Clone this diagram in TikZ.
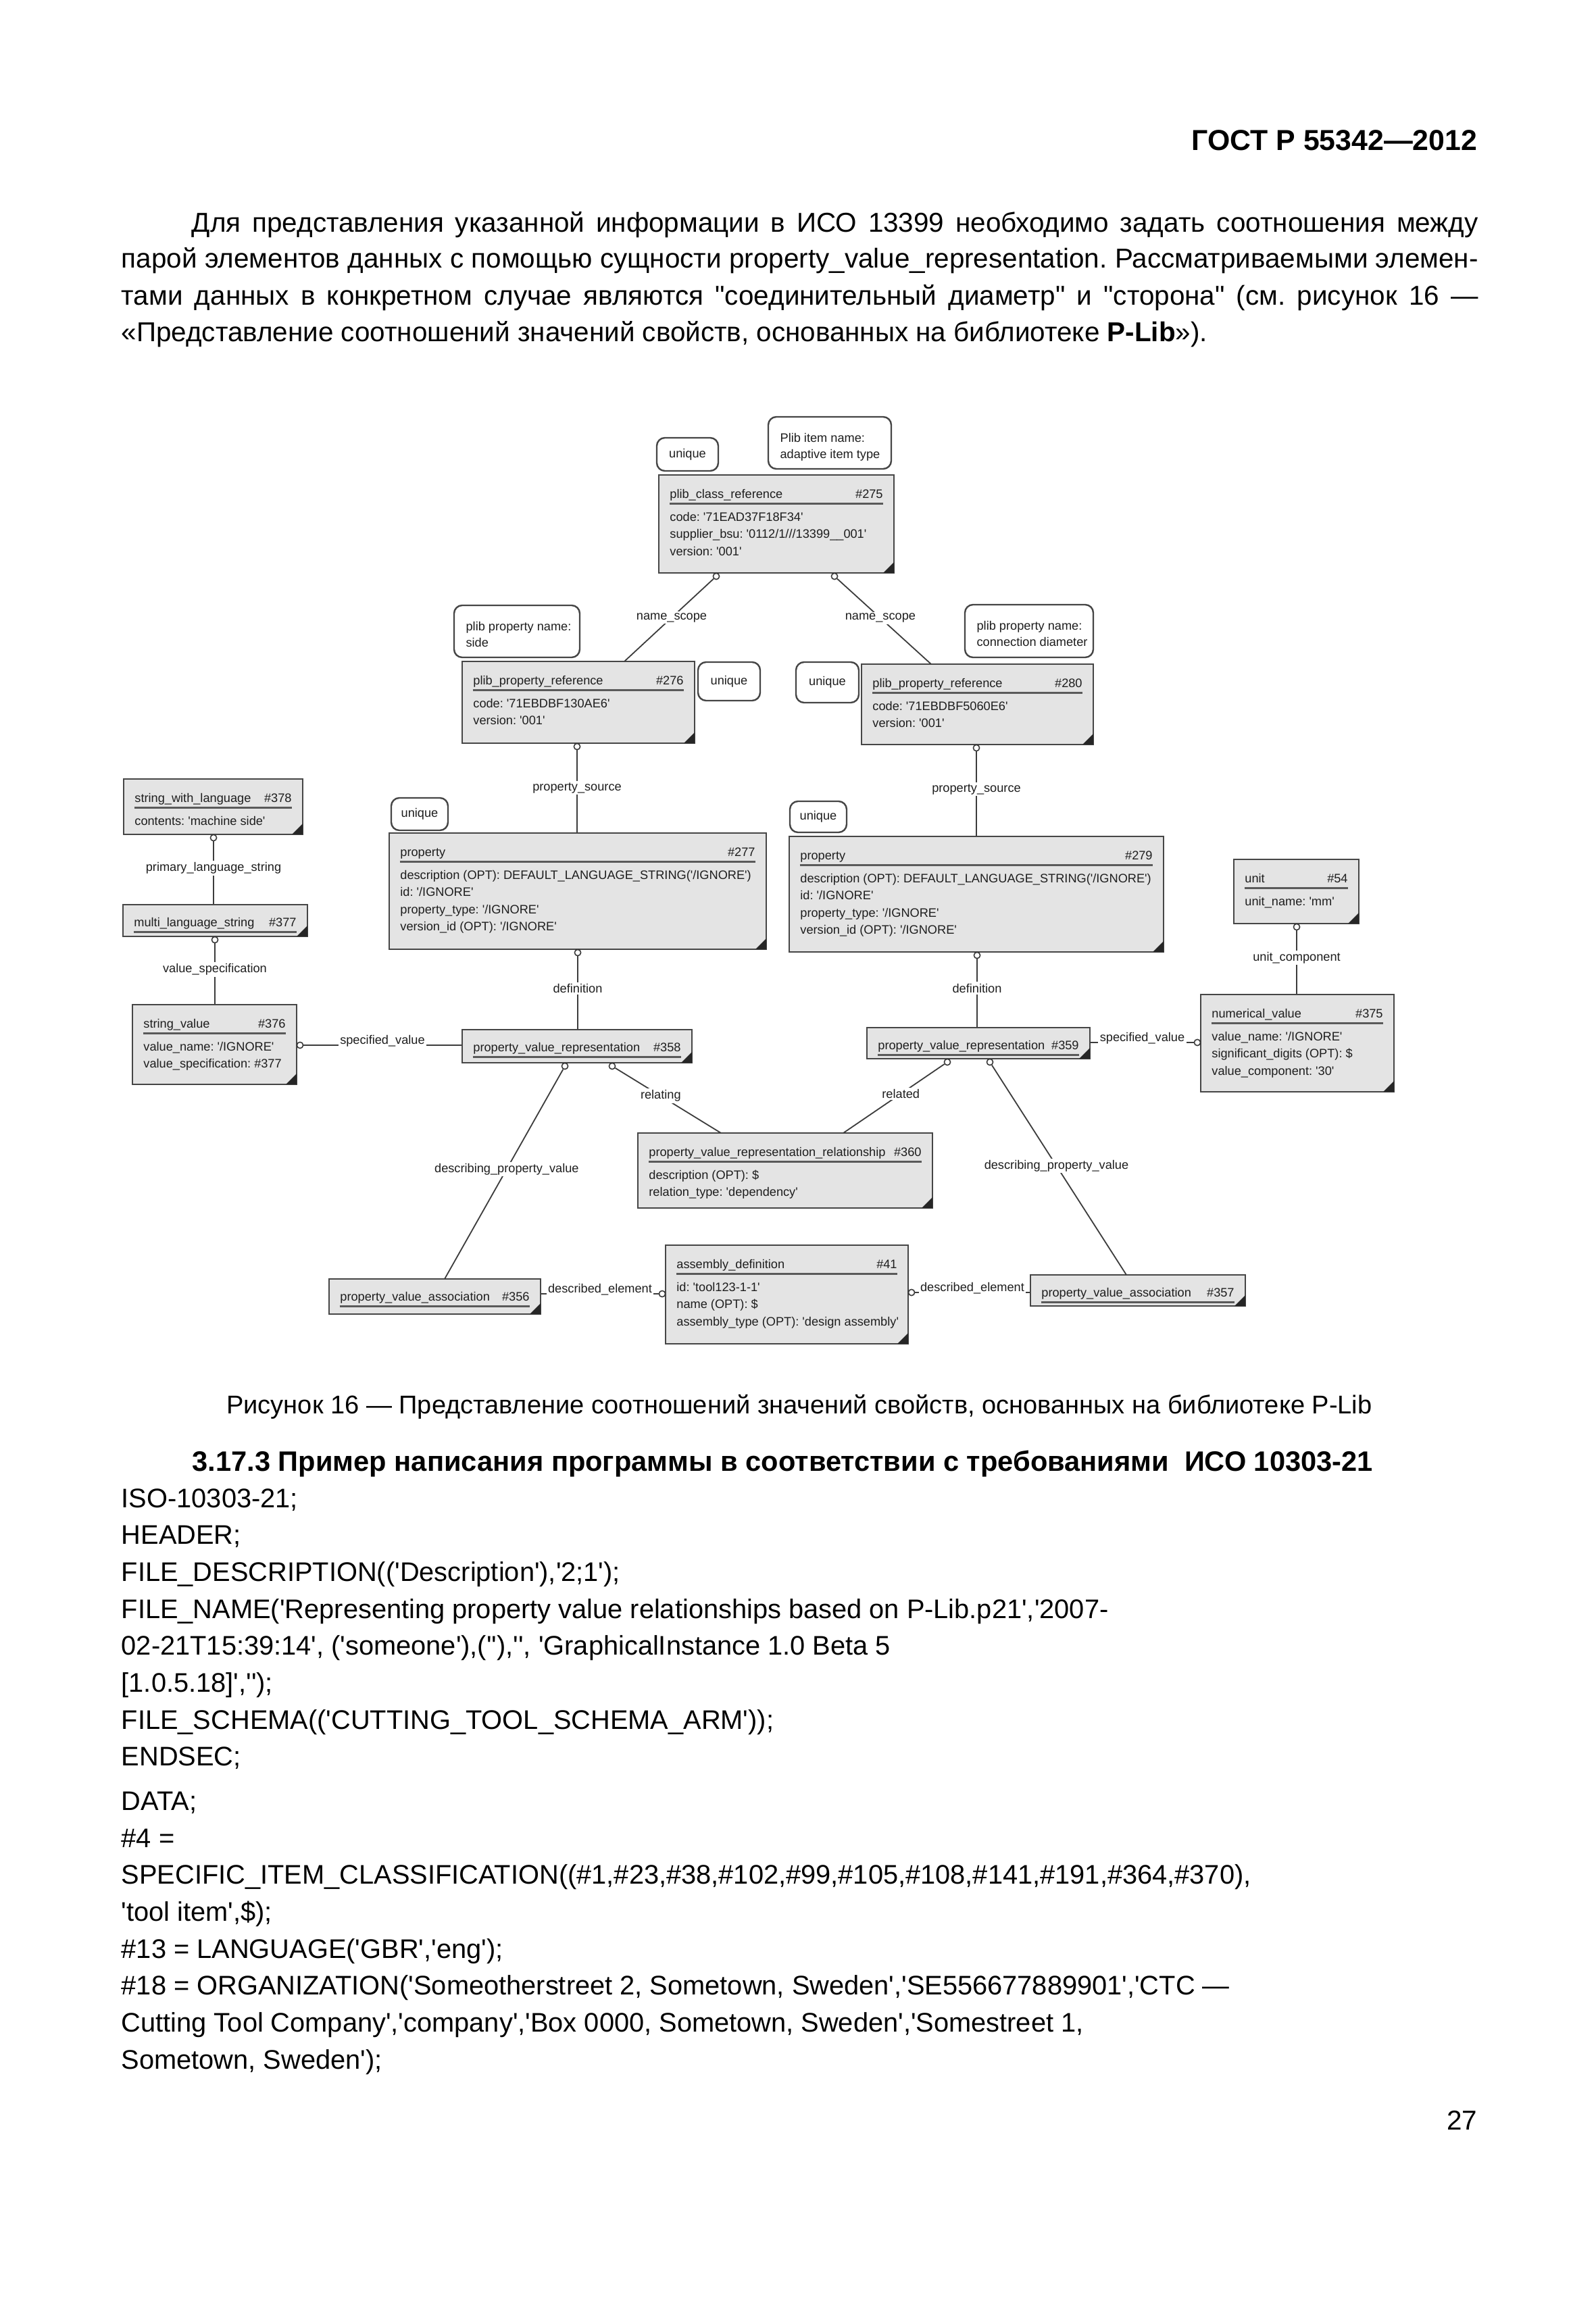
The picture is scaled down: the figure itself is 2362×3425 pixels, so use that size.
\documentclass[tikz,border=0pt]{standalone}
\usepackage{fontspec}
\newfontfamily\af{Liberation Sans}
\usetikzlibrary{fit,calc}
\definecolor{edge}{RGB}{70,70,70}
\definecolor{efill}{RGB}{228,228,228}
\definecolor{ulcol}{RGB}{90,90,90}
\definecolor{ccol}{RGB}{60,60,60}
\definecolor{dtext}{RGB}{30,30,30}
\newcommand\dfont{\af\fontsize{4.55pt}{6.4pt}\selectfont}
\newcommand\bfont{\af\fontsize{10.1pt}{13.5pt}\selectfont}
\newcommand\cfont{\af\fontsize{9.95pt}{13.5pt}\selectfont}
\newcommand\capfont{\af\fontsize{9.5pt}{12pt}\selectfont}
\newcommand\hfont{\af\bfseries\fontsize{10.4pt}{13pt}\selectfont}
\newcommand\gfont{\af\bfseries\fontsize{10.7pt}{13pt}\selectfont}
\frenchspacing
\tikzset{
  ebox/.style={draw=edge, fill=efill, line width=0.7pt, inner sep=0pt},
  nbox/.style={draw=edge, fill=white, line width=0.6pt, rounded corners=3pt, inner sep=0pt},
  etext/.style={font=\dfont, inner sep=0pt, text=dtext},
  uline/.style={draw=ulcol, line width=0.7pt},
  conn/.style={draw=ccol, line width=0.45pt},
  circ/.style={circle, draw=ccol, fill=white, line width=0.4pt, minimum size=2.3pt, inner sep=0pt},
  lbl/.style={font=\dfont, fill=white, inner sep=0.6pt, text=dtext},
  tri/.style={fill=black!85},
  body/.style={font=\bfont, inner sep=0pt, anchor=base west},
  code/.style={font=\cfont, inner sep=0pt, anchor=base west},
}
% entity with attribute rows
\newcommand\ent[8]{%
  \node[ebox, fit={(#2,#3) (#4,#5)}] (#1) {};
  \fill[tri] (#4,#5) -- ++(-16,0) -- ++(16,-16) -- cycle;
  \node[etext, anchor=base west] at ($(#1.north west)+(17,36)$) {#6};
  \node[etext, anchor=base east] at ($(#1.north east)+(-17,36)$) {#7};
  \draw[uline] ($(#1.north west)+(17,44)$) -- ($(#1.north east)+(-17,44)$);
  \foreach \rt [count=\ri] in {#8} {\node[etext, anchor=base west] at ($(#1.north west)+(17,{44+25.5*\ri})$) {\rt};}
}
% entity with title only
\newcommand\sent[7]{%
  \node[ebox, fit={(#2,#3) (#4,#5)}] (#1) {};
  \fill[tri] (#4,#5) -- ++(-16,0) -- ++(16,-16) -- cycle;
  \node[etext, anchor=base west] at ($(#1.north west)+(17,34)$) {#6};
  \node[etext, anchor=base east] at ($(#1.north east)+(-17,34)$) {#7};
  \draw[uline] ($(#1.north west)+(17,42)$) -- ($(#1.north east)+(-17,42)$);
}
\newcommand\note[6]{%
  \node[nbox, fit={(#2,#3) (#4,#5)}] (#1) {};
  \node[etext] at (#1.center) {#6};
}
\newcommand\notetwo[7]{%
  \node[nbox, fit={(#2,#3) (#4,#5)}] (#1) {};
  \node[etext, anchor=base west] at ($(#1.north west)+(18,39)$) {#6};
  \node[etext, anchor=base west] at ($(#1.north west)+(18,63)$) {#7};
}
\begin{document}
\begin{tikzpicture}[x=0.25pt,y=-0.25pt]
\useasboundingbox (0,0) rectangle (2362,3425);
\fill[white] (0,0) rectangle (2362,3425);

% ---------- page text ----------
\node[font=\gfont, inner sep=0pt, anchor=base east] (hdr) at (2187,223) {ГОСТ Р 55342—2012};
\node[body] (p1) at (283,343) {\hbox to 476pt{Для представления указанной информации в ИСО 13399 необходимо задать соотношения между}};
\node[body] (p2) at (179,397) {\hbox to 502pt{парой элементов данных с помощью сущности property\_value\_representation. Рассматриваемыми элемен-}};
\node[body] (p3) at (179,451) {\hbox to 502pt{тами данных в конкретном случае являются "соединительный диаметр" и "сторона" (см. рисунок 16 —}};
\node[body] (p4) at (179,505) {«Представление соотношений значений свойств, основанных на библиотеке \textbf{P-Lib}»).};

\node[font=\capfont, inner sep=0pt, anchor=base] (cap) at (1183,2092) {Рисунок 16 — Представление соотношений значений свойств, основанных на библиотеке P-Lib};
\node[font=\hfont, inner sep=0pt, anchor=base west] (sec) at (284,2177) {3.17.3 Пример написания программы в соответствии с требованиями \ ИСО 10303-21};

\node[code] (c1) at (179,2231) {ISO-10303-21;};
\node[code] (c2) at (179,2285) {HEADER;};
\node[code] (c3) at (179,2340) {FILE\_DESCRIPTION(('Description'),'2;1');};
\node[code] (c4) at (179,2395) {FILE\_NAME('Representing property value relationships based on P-Lib.p21','2007-};
\node[code] (c5) at (179,2449) {02-21T15:39:14', ('someone'),(''),'', 'GraphicalInstance 1.0 Beta 5};
\node[code] (c6) at (179,2504) {[1.0.5.18]','');};
\node[code] (c7) at (179,2559) {FILE\_SCHEMA(('CUTTING\_TOOL\_SCHEMA\_ARM'));};
\node[code] (c8) at (179,2613) {ENDSEC;};
\node[code] (c9) at (179,2679) {DATA;};
\node[code] (c10) at (179,2734) {\#4 =};
\node[code] (c11) at (179,2788) {SPECIFIC\_ITEM\_CLASSIFICATION((\#1,\#23,\#38,\#102,\#99,\#105,\#108,\#141,\#191,\#364,\#370),};
\node[code] (c12) at (179,2843) {'tool item',\$);};
\node[code] (c13) at (179,2898) {\#13 = LANGUAGE('GBR','eng');};
\node[code] (c14) at (179,2952) {\#18 = ORGANIZATION('Someotherstreet 2, Sometown, Sweden','SE556677889901','CTC —};
\node[code] (c15) at (179,3007) {Cutting Tool Company','company','Box 0000, Sometown, Sweden','Somestreet 1,};
\node[code] (c16) at (179,3062) {Sometown, Sweden');};
\node[font=\bfont, inner sep=0pt, anchor=base east] (pg) at (2187,3152) {27};

% ---------- diagram: notes ----------
\note{N1}{972}{648}{1063}{697}{unique}
\notetwo{N2}{1137}{617}{1319}{694}{Plib item name:}{adaptive item type}
\notetwo{N3}{672}{896}{858}{973}{plib property name:}{side}
\note{N4}{1033}{980}{1125}{1037}{unique}
\note{N5}{1178}{980}{1271}{1040}{unique}
\notetwo{N6}{1428}{895}{1618}{973}{plib property name:}{connection diameter}
\note{N7}{579}{1181}{663}{1229}{unique}
\note{N8}{1169}{1186}{1253}{1232}{unique}

% ---------- diagram: entities ----------
\ent{E275}{975}{703}{1323}{848}{plib\_class\_reference}{\#275}{code: '71EAD37F18F34', supplier\_bsu: '0112/1///13399\_\_001', version: '001'}
\ent{E276}{684}{979}{1028}{1100}{plib\_property\_reference}{\#276}{code: '71EBDBF130AE6', version: '001'}
\ent{E280}{1275}{983}{1618}{1102}{plib\_property\_reference}{\#280}{code: '71EBDBF5060E6', version: '001'}
\ent{E277}{576}{1233}{1134}{1405}{property}{\#277}{description (OPT): DEFAULT\_LANGUAGE\_STRING('/IGNORE'), id: '/IGNORE', property\_type: '/IGNORE', version\_id (OPT): '/IGNORE'}
\ent{E279}{1168}{1238}{1722}{1409}{property}{\#279}{description (OPT): DEFAULT\_LANGUAGE\_STRING('/IGNORE'), id: '/IGNORE', property\_type: '/IGNORE', version\_id (OPT): '/IGNORE'}
\ent{E378}{183}{1153}{448}{1235}{string\_with\_language}{\#378}{contents: 'machine side'}
\sent{E377}{182}{1339}{455}{1386}{multi\_language\_string}{\#377}
\ent{E376}{196}{1487}{439}{1605}{string\_value}{\#376}{value\_name: '/IGNORE', value\_specification: \#377}
\ent{E54}{1826}{1272}{2011}{1367}{unit}{\#54}{unit\_name: 'mm'}
\ent{E375}{1777}{1472}{2063}{1616}{numerical\_value}{\#375}{value\_name: '/IGNORE', significant\_digits (OPT): \$, value\_component: '30'}
\sent{E358}{684}{1524}{1024}{1573}{property\_value\_representation}{\#358}
\sent{E359}{1283}{1521}{1613}{1567}{property\_value\_representation}{\#359}
\ent{E360}{944}{1677}{1380}{1788}{property\_value\_representation\_relationship}{\#360}{description (OPT): \$, relation\_type: 'dependency'}
\sent{E356}{487}{1893}{800}{1945}{property\_value\_association}{\#356}
\sent{E357}{1525}{1887}{1843}{1933}{property\_value\_association}{\#357}
\ent{E41}{985}{1843}{1344}{1989}{assembly\_definition}{\#41}{id: 'tool123-1-1', name (OPT): \$, assembly\_type (OPT): 'design assembly'}

% ---------- diagram: connectors ----------
\node[circ] (o1) at (1060,853) {};
\node[circ] (o2) at (1235,853) {};
\node[circ] (o3) at (854,1105) {};
\node[circ] (o4) at (1445,1107) {};
\node[circ] (o5) at (316,1240) {};
\node[circ] (o6) at (318,1391) {};
\node[circ] (o7) at (855,1410) {};
\node[circ] (o8) at (1446,1414) {};
\node[circ] (o9) at (1919,1372) {};
\node[circ] (o10) at (444,1547) {};
\node[circ] (o11) at (1772,1543) {};
\node[circ] (o12) at (906,1578) {};
\node[circ] (o13) at (1402,1572) {};
\node[circ] (o14) at (836,1578) {};
\node[circ] (o15) at (1465,1572) {};
\node[circ] (o16) at (980,1915) {};
\node[circ] (o17) at (1349,1913) {};

\coordinate (t1) at (924,979);
\coordinate (t2) at (1378,983);
\coordinate (t12) at (1067,1677);
\coordinate (t13) at (1248,1677);
\coordinate (t14) at (658,1893);
\coordinate (t15) at (1667,1887);

\draw[conn] (o1) -- node[lbl, pos=0.47] {name\_scope} (t1);
\draw[conn] (o2) -- node[lbl, pos=0.46] {name\_scope} (t2);
\draw[conn] (o3) -- node[lbl, pos=0.46] {property\_source} (o3 |- E277.north);
\draw[conn] (o4) -- node[lbl, pos=0.45] {property\_source} (o4 |- E279.north);
\draw[conn] (o5) -- node[lbl, pos=0.43] {primary\_language\_string} (o5 |- E377.north);
\draw[conn] (o6) -- node[lbl, pos=0.43] {value\_specification} (o6 |- E376.north);
\draw[conn] (o7) -- node[lbl, pos=0.44] {definition} (o7 |- E358.north);
\draw[conn] (o8) -- node[lbl, pos=0.43] {definition} (o8 |- E359.north);
\draw[conn] (o9) -- node[lbl, pos=0.43] {unit\_component} (o9 |- E375.north);
\draw[conn] (o10) -- node[lbl, pos=0.5, anchor=base, yshift=0.5pt] {specified\_value} (o10 -| E358.west);
\draw[conn] (o11) -- node[lbl, pos=0.5, anchor=base, yshift=0.5pt] {specified\_value} (o11 -| E359.east);
\draw[conn] (o12) -- node[lbl, pos=0.43] {relating} (t12);
\draw[conn] (o13) -- node[lbl, pos=0.43] {related} (t13);
\draw[conn] (o14) -- node[lbl, pos=0.476] {describing\_property\_value} (t14);
\draw[conn] (o15) -- node[lbl, pos=0.48] {describing\_property\_value} (t15);
\draw[conn] (o16) -- node[lbl, pos=0.5, anchor=base, yshift=0.5pt] {described\_element} (o16 -| E356.east);
\draw[conn] (o17) -- node[lbl, pos=0.5, anchor=base, yshift=0.5pt] {described\_element} (o17 -| E357.west);
\end{tikzpicture}
\end{document}
